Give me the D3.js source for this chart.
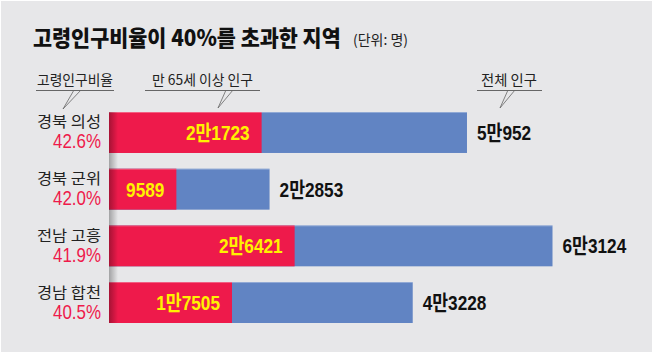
<!DOCTYPE html>
<html>
<head>
<meta charset="utf-8">
<script src="https://cdn.jsdelivr.net/npm/d3@7"></script>
<style>
  body { margin: 0; background: #fff; }
  svg { display: block; }
  text { font-family: "Noto Sans CJK KR", sans-serif; }
  .num { font-family: "Liberation Sans", "Noto Sans CJK KR", sans-serif; }
</style>
</head>
<body>
<div id="chart"></div>
<script>
const regions = ["경북 의성", "경북 군위", "전남 고흥", "경남 합천"];
const ratios = [42.6, 42.0, 41.9, 40.5];
const elderly = [21723, 9589, 26421, 17505];
const total = [50952, 22853, 63124, 43228];

const width = 654, height = 354;
const red = "#ee1a4b", blue = "#6184c3", bg = "#e7e7e9";

const data = regions.map((r, i) => ({ region: r, ratio: ratios[i], old: elderly[i], total: total[i] }));

// 2만1723 style
const fmtMan = n => {
  const man = Math.floor(n / 10000), rest = n % 10000;
  return man > 0 ? `${man}만${rest}` : `${rest}`;
};

const svg = d3.select("#chart").append("svg")
  .attr("width", width)
  .attr("height", height);

const defs = svg.append("defs");
const shade = defs.append("linearGradient").attr("id", "shade");
shade.append("stop").attr("offset", "0%").attr("stop-color", "#000").attr("stop-opacity", 0.3);
shade.append("stop").attr("offset", "100%").attr("stop-color", "#000").attr("stop-opacity", 0);

svg.append("rect")
  .attr("x", 1).attr("y", 1)
  .attr("width", width - 3).attr("height", height - 3)
  .attr("fill", bg);

const x = d3.scaleLinear().domain([0, d3.max(total)]).range([109, 552.5]);
const y = d3.scaleBand().domain(regions).range([112, 323]).paddingInner(0.277).paddingOuter(0);

// squeeze text (the original uses a narrow face)
function squeeze(sel, k) {
  sel.each(function () {
    const w = this.getComputedTextLength();
    d3.select(this).attr("textLength", w * k).attr("lengthAdjust", "spacingAndGlyphs");
  });
}
function fit(sel, w) {
  sel.attr("textLength", w).attr("lengthAdjust", "spacingAndGlyphs");
}

// title (scaled horizontally to the narrow width of the original)
const title = svg.append("text")
  .attr("x", 0).attr("y", 0)
  .style("font-size", "22px").style("font-weight", "900").attr("fill", "#111")
  .text("고령인구비율이 40%를 초과한 지역");
const tk = 308 / title.node().getComputedTextLength();
title.attr("transform", `translate(33,46) scale(${tk},1)`);

svg.append("text")
  .attr("x", 353).attr("y", 45)
  .style("font-size", "14px").attr("fill", "#222")
  .text("(단위: 명)")
  .call(fit, 55);

// callout labels
const callouts = [
  { label: "고령인구비율", tx: 37, tw: 76, x0: 36, x1: 114, p: [[81, 90], [63, 109], [74, 90]] },
  { label: "만 65세 이상 인구", tx: 152, tw: 101, x0: 145, x1: 260, p: [[233, 90], [218, 108], [226, 90]] },
  { label: "전체 인구", tx: 481, tw: 56, x0: 477, x1: 542, p: [[515, 90], [500, 108], [508, 90]] }
];
const cg = svg.append("g");
callouts.forEach(c => {
  cg.append("text")
    .attr("x", c.tx).attr("y", 85)
    .style("font-size", "14px").attr("fill", "#222")
    .text(c.label)
    .call(fit, c.tw);
  cg.append("line")
    .attr("x1", c.x0).attr("x2", c.x1).attr("y1", 90.5).attr("y2", 90.5)
    .attr("stroke", "#666").attr("stroke-width", 1);
  cg.append("path")
    .attr("d", d3.line()(c.p))
    .attr("fill", "none").attr("stroke", "#666").attr("stroke-width", 0.8);
});

// bars
const rows = svg.append("g").selectAll("g")
  .data(data)
  .enter()
  .append("g");

rows.append("rect")
  .attr("x", x(0)).attr("y", d => y(d.region))
  .attr("width", d => x(d.total) - x(0)).attr("height", y.bandwidth())
  .attr("fill", blue);
rows.append("rect")
  .attr("x", x(0)).attr("y", d => y(d.region))
  .attr("width", d => x(d.old) - x(0)).attr("height", y.bandwidth())
  .attr("fill", red);
rows.append("rect")
  .attr("x", x(0)).attr("y", d => y(d.region))
  .attr("width", d => x(d.total) - x(0)).attr("height", 1)
  .attr("fill", "#fff").attr("opacity", 0.3);

// left-edge shadow across the bars
svg.append("rect")
  .attr("x", x(0)).attr("y", y.range()[0])
  .attr("width", 9).attr("height", y.range()[1] - y.range()[0])
  .attr("fill", "url(#shade)");

const mid = d => y(d.region) + y.bandwidth() / 2;

rows.append("text")
  .attr("class", "num")
  .attr("x", d => x(d.old) - 12).attr("y", d => mid(d) + 7.5)
  .attr("text-anchor", "end")
  .style("font-size", "21px").style("font-weight", "bold").attr("fill", "#fff200")
  .text(d => fmtMan(d.old))
  .call(squeeze, 0.82);

rows.append("text")
  .attr("class", "num")
  .attr("x", d => x(d.total) + 10).attr("y", d => mid(d) + 7.5)
  .attr("text-anchor", "start")
  .style("font-size", "21px").style("font-weight", "bold").attr("fill", "#111")
  .text(d => fmtMan(d.total))
  .call(squeeze, 0.82);

// region name + ratio
rows.append("text")
  .attr("x", 101).attr("y", d => mid(d) - 5)
  .attr("text-anchor", "end")
  .style("font-size", "15px").attr("fill", "#222")
  .text(d => d.region)
  .call(fit, 64);

rows.append("text")
  .attr("class", "num")
  .attr("x", 101).attr("y", d => mid(d) + 16)
  .attr("text-anchor", "end")
  .style("font-size", "21px").attr("fill", red)
  .text(d => d.ratio.toFixed(1) + "%")
  .call(fit, 48);
</script>
</body>
</html>
